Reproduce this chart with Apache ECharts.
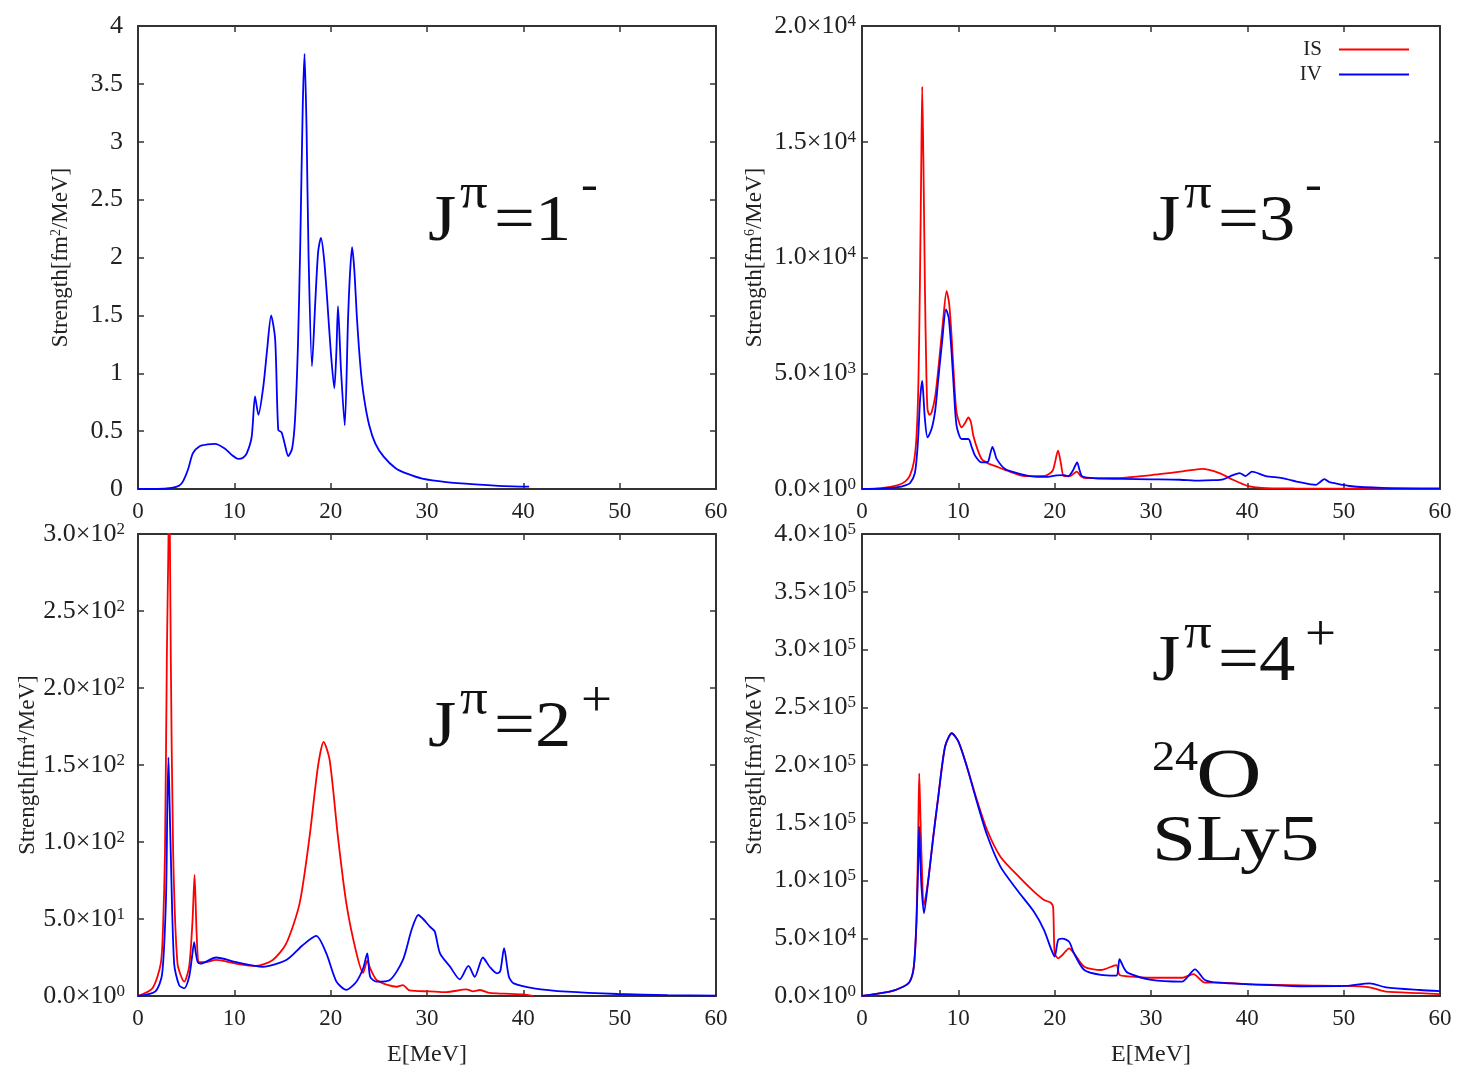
<!DOCTYPE html>
<html><head><meta charset="utf-8">
<script src="https://cdn.jsdelivr.net/npm/echarts@6/dist/echarts.min.js"></script>
<style>html,body{margin:0;padding:0;background:#fff}#c{width:1462px;height:1074px}</style>
</head><body><div id="c"></div>
<script>
// ---------- data ----------
const xTicks = [0, 10, 20, 30, 40, 50, 60];

// J=1- (top-left), single curve
const e1E = [0, 2, 3.5, 4.3, 4.7, 5.2, 5.7, 6.4, 7.2, 8.0, 9.0, 9.8, 10.4, 10.9, 11.3, 11.8, 12.15, 12.5, 13.0, 13.4, 13.82, 14.24, 14.56, 14.9, 15.2, 15.6, 16.0, 16.3, 16.6, 16.84, 17.1, 17.29, 17.5, 17.7, 18.06, 18.4, 18.7, 18.99, 19.3, 19.62, 20.0, 20.38, 20.6, 20.76, 21.07, 21.46, 21.8, 22.0, 22.22, 22.45, 22.74, 23.1, 23.44, 24.0, 24.65, 25.5, 26.74, 28, 29.5, 32, 35, 38, 40.6];
const e1V = [0, 0, 0.01, 0.03, 0.07, 0.17, 0.31, 0.37, 0.385, 0.39, 0.35, 0.29, 0.26, 0.27, 0.31, 0.45, 0.80, 0.64, 0.88, 1.2, 1.50, 1.29, 0.51, 0.49, 0.40, 0.285, 0.35, 0.60, 1.23, 2.1, 3.3, 3.76, 3.1, 2.04, 1.06, 1.61, 2.05, 2.17, 2.0, 1.66, 1.2, 0.87, 1.2, 1.58, 1.03, 0.55, 1.46, 1.85, 2.09, 1.9, 1.46, 1.05, 0.80, 0.55, 0.39, 0.28, 0.18, 0.13, 0.09, 0.06, 0.04, 0.025, 0.02];

// J=3- (top-right)
const e3isE = [0, 2, 3.75, 4.5, 4.97, 5.4, 5.66, 5.85, 6.01, 6.15, 6.25, 6.38, 6.53, 6.68, 6.8, 7.0, 7.22, 7.6, 7.92, 8.4, 8.78, 9.05, 9.3, 9.55, 9.82, 10.35, 10.7, 11.04, 11.3, 11.56, 12.0, 12.43, 13.1, 13.8, 15.0, 16.9, 19.0, 19.8, 20.35, 20.65, 20.95, 21.6, 22.3, 22.7, 23.2, 26.3, 29.8, 33.3, 35.3, 37.1, 38.5, 40.0, 41.5, 45, 50, 60];
const e3isV = [0, 40, 170, 330, 575, 1200, 2300, 4500, 8760, 14000, 17380, 14000, 8760, 5000, 3450, 3200, 3300, 4000, 5170, 7200, 8550, 8000, 6600, 4800, 3300, 2660, 2850, 3090, 2900, 2300, 1700, 1290, 1100, 1000, 800, 560, 570, 800, 1660, 1100, 560, 560, 750, 560, 470, 470, 590, 760, 870, 690, 400, 140, 50, 20, 10, 0];
const e3ivE = [0, 2, 3.75, 4.5, 4.97, 5.49, 5.8, 6.01, 6.12, 6.25, 6.38, 6.53, 6.8, 7.22, 7.6, 7.92, 8.3, 8.72, 9.0, 9.3, 9.55, 9.82, 10.35, 11.04, 11.4, 11.74, 12.43, 13.06, 13.3, 13.54, 13.75, 13.99, 14.86, 16, 17.6, 19, 20.2, 21.0, 21.4, 21.9, 22.33, 22.6, 22.85, 24.2, 27, 30, 33, 35, 36.5, 37.5, 38.5, 39.2, 39.8, 40.5, 41.9, 43.6, 45.4, 47.1, 47.5, 48.0, 48.5, 48.9, 50.6, 54, 60];
const e3ivV = [0, 20, 80, 160, 250, 690, 2000, 3750, 4300, 4670, 4000, 3020, 2230, 2590, 3400, 4740, 6300, 7760, 7400, 5890, 4200, 2730, 2160, 2160, 1800, 1440, 1150, 1170, 1500, 1820, 1600, 1290, 860, 700, 550, 520, 590, 600, 550, 800, 1150, 800, 550, 460, 440, 420, 400, 360, 380, 420, 600, 690, 560, 750, 560, 470, 300, 180, 280, 430, 300, 260, 130, 50, 30];

// J=2+ (bottom-left)
const e2isE = [0, 1.5, 2.36, 2.6, 2.8, 3.0, 3.15, 3.23, 3.32, 3.4, 3.65, 4.1, 4.8, 5.31, 5.66, 5.87, 6.1, 6.35, 7, 8.1, 10.18, 12.26, 13.99, 15.38, 16.77, 17.8, 18.68, 19.27, 19.9, 20.76, 21.63, 22.67, 23.37, 23.8, 24.1, 24.76, 26, 26.85, 27.5, 28.2, 30.3, 32, 34.1, 34.8, 35.5, 36.5, 38, 40, 41];
const e2isV = [0, 5, 21, 45, 93, 223, 290, 330, 290, 223, 93, 21, 9.3, 19, 49, 78.6, 38.5, 22, 22, 23.4, 21, 19.5, 23.4, 34, 60, 103, 149, 165, 153, 103, 60, 28, 15, 23, 18, 10.4, 7, 6, 7, 3.6, 3, 2.5, 4.3, 3, 3.9, 2, 1.5, 1, 0];
const e2ivE = [0, 1.8, 2.5, 2.9, 3.05, 3.16, 3.28, 3.4, 3.75, 4.27, 4.8, 5.31, 5.6, 5.83, 6.0, 6.2, 6.5, 8.1, 10.2, 12.95, 15.4, 17.1, 18.5, 19.55, 20.6, 21.63, 22.67, 23.37, 23.8, 24.1, 24.76, 26.15, 27.5, 28.4, 29.1, 29.6, 30.3, 30.8, 31.35, 32.4, 33.4, 34.3, 34.96, 35.8, 36.5, 37.26, 37.6, 38.0, 38.5, 39.0, 41.1, 44.55, 49.8, 55, 60];
const e2ivV = [0, 3, 14, 62, 125, 155, 125, 93, 21, 7, 5, 12.5, 25, 35, 28, 22, 21, 25, 22, 19, 23.4, 33, 39, 27.7, 9.3, 4, 9.3, 18, 27.7, 12.5, 9.3, 10.4, 23.4, 43, 52.6, 50, 45, 42, 27.7, 19, 10.8, 19.5, 12.5, 25, 19, 14.7, 16, 31, 12.5, 8.2, 5, 2.8, 1.3, 0.6, 0.3];

// J=4+ (bottom-right)
const e4isE = [0, 2.87, 4.27, 4.96, 5.38, 5.66, 5.85, 5.94, 6.05, 6.17, 6.43, 6.88, 7.4, 7.92, 8.62, 9.32, 10.01, 10.89, 11.93, 12.98, 14.37, 16.1, 17.85, 18.9, 19.6, 19.84, 20.0, 20.36, 20.8, 21.5, 22.0, 23.07, 24.8, 26.4, 26.73, 27.6, 30.04, 33.2, 34.4, 35.6, 37, 40.5, 45.7, 50.2, 52.7, 54.4, 57.9, 60];
const e4isV = [0, 3700, 8000, 12400, 25400, 65800, 150000, 192800, 160000, 123800, 78800, 100400, 138000, 172600, 215800, 227500, 220200, 198500, 169700, 143700, 120600, 104800, 90300, 83100, 80800, 77000, 37000, 32600, 35500, 41300, 37000, 25400, 22500, 26800, 18200, 17000, 15800, 15800, 19000, 11500, 11500, 10100, 9200, 8700, 7500, 3700, 2500, 1700];
const e4ivE = [0, 2.87, 4.27, 4.96, 5.38, 5.66, 5.85, 5.94, 6.05, 6.17, 6.43, 6.88, 7.4, 7.92, 8.62, 9.32, 10.01, 10.89, 11.93, 12.98, 14.37, 16.1, 17.85, 18.9, 19.6, 20.0, 20.36, 20.8, 21.5, 22.0, 23.07, 24.8, 26.4, 26.73, 27.2, 27.6, 30.04, 33.2, 34.57, 35.6, 37, 40.5, 45.7, 50.2, 52.7, 54.4, 57.9, 60];
const e4ivV = [0, 3700, 8000, 12400, 25400, 65800, 120000, 146600, 120000, 95000, 71600, 100400, 138000, 172600, 215800, 227500, 220200, 198500, 168000, 139400, 112000, 91800, 73000, 57100, 41300, 34100, 48500, 49700, 47000, 37000, 22500, 18200, 17600, 31800, 24000, 20000, 13900, 12400, 23100, 13900, 11500, 10100, 8400, 8700, 11000, 7500, 5200, 4300];

// tick labels (mantissa, exponent)
const yTicks1 = ['0', '0.5', '1', '1.5', '2', '2.5', '3', '3.5', '4'];
const yTicks3 = [['0.0', '0'], ['5.0', '3'], ['1.0', '4'], ['1.5', '4'], ['2.0', '4']];
const yTicks2 = [['0.0', '0'], ['5.0', '1'], ['1.0', '2'], ['1.5', '2'], ['2.0', '2'], ['2.5', '2'], ['3.0', '2']];
const yTicks4 = [['0.0', '0'], ['5.0', '4'], ['1.0', '5'], ['1.5', '5'], ['2.0', '5'], ['2.5', '5'], ['3.0', '5'], ['3.5', '5'], ['4.0', '5']];

const seriesNames = ['IS', 'IV'];
const colors = { IS: '#ff0000', IV: '#0000ff' };

// ---------- chart ----------
const FONT = 'Liberation Serif';
const TXT = '#222';
const zip = (a, b) => a.map((v, i) => [v, b[i]]);

const grids = [
  { left: 138, top: 26, width: 578, height: 463 },
  { left: 862, top: 26, width: 578, height: 463 },
  { left: 138, top: 534, width: 578, height: 462 },
  { left: 862, top: 534, width: 578, height: 462 }
];
const yCfg = [
  { max: 4, interval: 0.5, ticks: yTicks1, unit: '2', margin: 15, gap: 66 },
  { max: 20000, interval: 5000, ticks: yTicks3, unit: '6', margin: 6, gap: 96 },
  { max: 300, interval: 50, ticks: yTicks2, unit: '4', margin: 13, gap: 97 },
  { max: 400000, interval: 50000, ticks: yTicks4, unit: '8', margin: 6, gap: 96 }
];

const axisLine = { onZero: false, lineStyle: { color: '#333', width: 2 } };
const axisTick = { inside: true, length: 6, lineStyle: { color: '#333', width: 1.5 } };
const rich = {
  m: { fontFamily: FONT, fontSize: 26, color: TXT, lineHeight: 26 },
  e: { fontFamily: FONT, fontSize: 17, color: TXT, verticalAlign: 'top', lineHeight: 14 }
};

const xAxis = [], yAxis = [];
grids.forEach((g, i) => {
  const bottomPanel = i >= 2;
  xAxis.push({
    type: 'value', gridIndex: i, min: xTicks[0], max: xTicks[xTicks.length - 1], interval: xTicks[1] - xTicks[0],
    position: 'bottom', axisLine, axisTick, splitLine: { show: false },
    axisLabel: { fontFamily: FONT, fontSize: 23, color: TXT, margin: 11 },
    name: bottomPanel ? 'E[MeV]' : '', nameLocation: 'middle', nameGap: 47,
    nameTextStyle: { fontFamily: FONT, fontSize: 24, color: TXT }
  });
  xAxis.push({
    type: 'value', gridIndex: i, min: xTicks[0], max: xTicks[xTicks.length - 1], interval: xTicks[1] - xTicks[0],
    position: 'top', axisLine, axisTick, splitLine: { show: false }, axisLabel: { show: false }
  });
  const c = yCfg[i];
  yAxis.push({
    type: 'value', gridIndex: i, min: 0, max: c.max, interval: c.interval, position: 'left',
    axisLine, axisTick, splitLine: { show: false },
    axisLabel: {
      margin: c.margin, fontFamily: FONT, fontSize: 26, color: TXT,
      formatter: (v) => {
        const t = c.ticks[Math.round(v / c.interval)];
        if (typeof t === 'string') return t;
        return '{m|' + t[0] + '×10}{e|' + t[1] + '}';
      },
      rich
    },
    name: '{n|Strength[fm}{s|' + c.unit + '}{n|/MeV]}', nameLocation: 'middle', nameRotate: 90, nameGap: c.gap,
    nameTextStyle: {
      rich: {
        n: { fontFamily: FONT, fontSize: 23, color: TXT, lineHeight: 23 },
        s: { fontFamily: FONT, fontSize: 14, color: TXT, verticalAlign: 'top', lineHeight: 13 }
      }
    }
  });
  yAxis.push({
    type: 'value', gridIndex: i, min: 0, max: c.max, interval: c.interval, position: 'right',
    axisLine, axisTick, splitLine: { show: false }, axisLabel: { show: false }
  });
});

function line(name, gi, E, V) {
  return {
    type: 'line', name, xAxisIndex: gi * 2, yAxisIndex: gi * 2, data: zip(E, V),
    showSymbol: false, smooth: 0.25, clip: true, z: name === 'IV' ? 3 : 2,
    lineStyle: { color: colors[name], width: 1.8 }, itemStyle: { color: colors[name] }
  };
}
const series = [
  line('IV', 0, e1E, e1V),
  line('IS', 1, e3isE, e3isV), line('IV', 1, e3ivE, e3ivV),
  line('IS', 2, e2isE, e2isV), line('IV', 2, e2ivE, e2ivV),
  line('IS', 3, e4isE, e4isV), line('IV', 3, e4ivE, e4ivV)
];

function txt(x, y, s, size, sx) {
  return { type: 'text', x, y, scaleX: sx || 1.1, style: { text: s, fontFamily: FONT, fontSize: size, fill: '#111', textVerticalAlign: 'bottom' } };
}
function jpi(x, y, num, parity) {
  return [
    txt(x, y, 'J', 66),
    txt(x + 32, y - 36, 'π', 50),
    txt(x + 66, y, '=' + num, 66),
    txt(x + 153, y - (parity === '+' ? 34 : 46), parity, parity === '+' ? 50 : 46)
  ];
}
const graphic = [].concat(
  jpi(428, 256, '1', '-'),
  jpi(1152, 256, '3', '-'),
  jpi(428, 762, '2', '+'),
  jpi(1152, 696, '4', '+'),
  [txt(1152, 780, '24', 42), txt(1196, 814, 'O', 70, 1.3), txt(1152, 876, 'SLy5', 66, 1.2)]
);

const chart = echarts.init(document.getElementById('c'), null, { renderer: 'canvas' });
chart.setOption({
  animation: false,
  backgroundColor: '#fff',
  grid: grids,
  xAxis, yAxis, series, graphic,
  legend: {
    data: seriesNames, right: 48, top: 34, orient: 'vertical', align: 'right',
    itemWidth: 70, itemHeight: 2, itemGap: 4, icon: 'rect',
    textStyle: { fontFamily: FONT, fontSize: 21, color: TXT, padding: [0, 12, 0, 0] }
  }
});
</script></body></html>
